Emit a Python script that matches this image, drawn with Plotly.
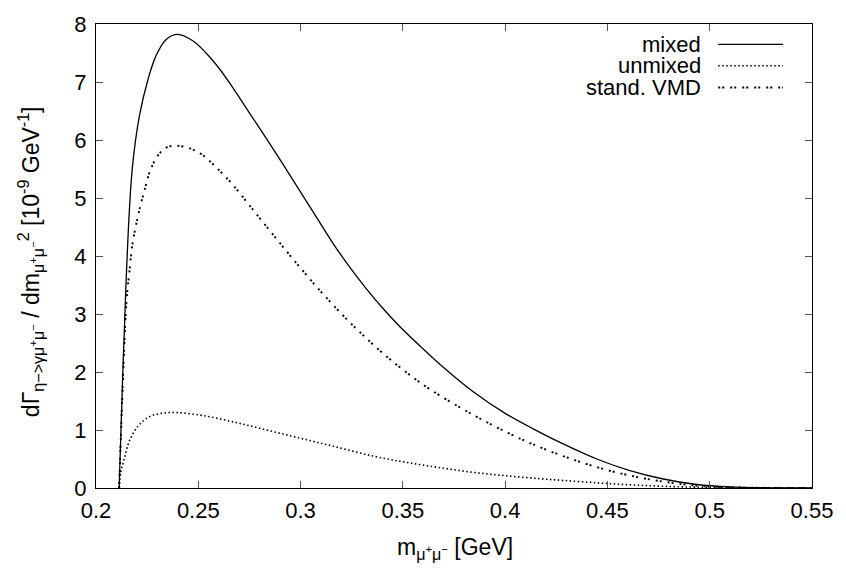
import plotly.graph_objects as go

# ---- data ----
mixed_x = [0.2113, 0.2130, 0.2147, 0.2163, 0.2179, 0.2212, 0.2253, 0.2293, 0.2342, 0.2399,
           0.2473, 0.2538, 0.2605, 0.2671, 0.2753, 0.2834, 0.2916, 0.2997, 0.3079, 0.3160,
           0.3242, 0.3323, 0.3404, 0.3486, 0.3568, 0.3682, 0.3844, 0.4008, 0.4170, 0.4284,
           0.4448, 0.4610, 0.4773, 0.4936, 0.5100, 0.5300, 0.5500]
mixed_y = [0.00, 1.87, 3.55, 4.78, 5.57, 6.41, 7.03, 7.45, 7.73, 7.82,
           7.71, 7.50, 7.22, 6.89, 6.45, 6.02, 5.57, 5.12, 4.66, 4.21,
           3.80, 3.43, 3.09, 2.78, 2.50, 2.13, 1.66, 1.27, 0.96, 0.76,
           0.50, 0.30, 0.155, 0.06, 0.018, 0.003, 0.0]

vmd_x = [0.2113, 0.2138, 0.2150, 0.2163, 0.2179, 0.2204, 0.2236, 0.2269, 0.2309, 0.2350,
         0.2399, 0.2464, 0.2521, 0.2596, 0.2671, 0.2753, 0.2842, 0.2932, 0.3022, 0.3111,
         0.3209, 0.3307, 0.3413, 0.3519, 0.3633, 0.3844, 0.4008, 0.4138, 0.4284, 0.4448,
         0.4610, 0.4773, 0.4936, 0.5100, 0.5300, 0.5500]
vmd_y = [0.00, 2.43, 3.27, 3.72, 4.22, 4.67, 5.12, 5.51, 5.76, 5.88,
         5.90, 5.85, 5.74, 5.50, 5.22, 4.86, 4.47, 4.08, 3.70, 3.34,
         2.97, 2.63, 2.29, 1.99, 1.70, 1.26, 0.96, 0.75, 0.55, 0.36,
         0.215, 0.11, 0.04, 0.012, 0.002, 0.0]

unmixed_x = [0.2113, 0.2122, 0.2138, 0.2163, 0.2204, 0.2261, 0.2326, 0.2399, 0.2521, 0.2671,
             0.2834, 0.2997, 0.3160, 0.3356, 0.3519, 0.3682, 0.3844, 0.4008, 0.4170, 0.4284,
             0.4448, 0.4610, 0.4773, 0.5000, 0.5500]
unmixed_y = [0.00, 0.28, 0.50, 0.81, 1.06, 1.23, 1.29, 1.30, 1.25, 1.14,
             1.00, 0.86, 0.72, 0.55, 0.44, 0.35, 0.27, 0.21, 0.16, 0.13,
             0.09, 0.055, 0.03, 0.01, 0.0]

x_ticks = [0.2, 0.25, 0.3, 0.35, 0.4, 0.45, 0.5, 0.55]
y_ticks = [0, 1, 2, 3, 4, 5, 6, 7, 8]

labels = ["mixed", "unmixed", "stand. VMD"]
dashes = ["solid", "1.5px,2.5px", "2px,2px,2px,6px"]
widths = [1.3, 1.6, 1.9]

FONT = "Liberation Sans, Arial, Helvetica, sans-serif"
FS = 22

fig = go.Figure()
series = [(mixed_x, mixed_y), (unmixed_x, unmixed_y), (vmd_x, vmd_y)]
for (xs, ys), name, dash, w in zip(series, labels, dashes, widths):
    fig.add_trace(go.Scatter(x=xs, y=ys, mode="lines", name=name,
                             line=dict(color="black", width=w, dash=dash,
                                       shape="spline", smoothing=1.0),
                             showlegend=False, hoverinfo="skip"))

# gnuplot-style key: text right-aligned, sample to the right
key_y = [0.956, 0.910, 0.863]
for name, dash, w, ky in zip(labels, dashes, widths, key_y):
    fig.add_annotation(x=0.848, y=ky, xref="paper", yref="paper", text=name,
                       showarrow=False, xanchor="right", yanchor="middle",
                       font=dict(family=FONT, size=FS, color="black"))
    fig.add_shape(type="line", xref="paper", yref="paper",
                  x0=0.869, x1=0.9595, y0=ky, y1=ky,
                  line=dict(color="black", width=w, dash=dash))

fig.add_annotation(x=0.502, y=-0.13, xref="paper", yref="paper",
                   text="m<sub>μ<sup>+</sup>μ<sup>−</sup></sub> [GeV]",
                   showarrow=False, xanchor="center", yanchor="middle",
                   font=dict(family=FONT, size=23, color="black"))
fig.add_annotation(x=-0.092, y=0.487, xref="paper", yref="paper", textangle=-90,
                   text="dΓ<sub>η−>γμ<sup>+</sup>μ<sup>−</sup></sub> / dm<sub>μ<sup>+</sup>μ<sup>−</sup></sub><sup>2</sup> [10<sup>-9</sup> GeV<sup>-1</sup>]",
                   showarrow=False, xanchor="center", yanchor="middle",
                   font=dict(family=FONT, size=23, color="black"))

axis_common = dict(showgrid=False, zeroline=False, showline=True, linecolor="black",
                   linewidth=1, mirror="ticks", ticks="inside", ticklen=7,
                   tickcolor="#555555", tickwidth=1, ticklabeloverflow="allow",
                   tickfont=dict(family=FONT, size=FS, color="black"))
fig.update_xaxes(range=[0.2, 0.55], tickvals=x_ticks,
                 ticktext=[f"{v:g}" for v in x_ticks], ticklabelstandoff=3, **axis_common)
fig.update_yaxes(range=[0, 8], tickvals=y_ticks,
                 ticktext=[str(v) for v in y_ticks], ticklabelstandoff=4, **axis_common)

fig.update_layout(width=846, height=568, margin=dict(l=96, r=34, t=12, b=80),
                  plot_bgcolor="white", paper_bgcolor="white",
                  font=dict(family=FONT, size=FS, color="black"))

fig.write_html("out.html", config={"displayModeBar": False},
               post_script="document.body.style.margin='0';")
